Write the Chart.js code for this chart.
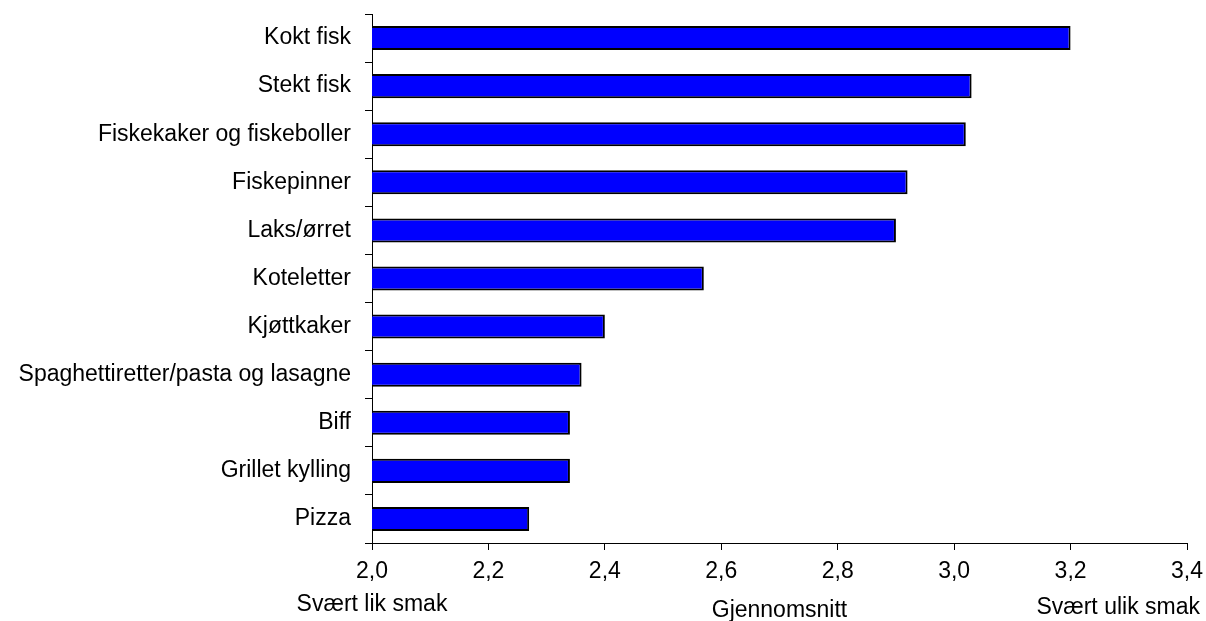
<!DOCTYPE html>
<html>
<head>
<meta charset="utf-8">
<script src="https://cdn.jsdelivr.net/npm/chart.js@4"></script>
<style>
  html, body { margin: 0; padding: 0; background: #fff; }
  #wrap { width: 1206px; height: 621px; }
</style>
</head>
<body>
<div id="wrap"><canvas id="c" width="1206" height="621"></canvas></div>
<script>
const categories = [
  "Kokt fisk", "Stekt fisk", "Fiskekaker og fiskeboller", "Fiskepinner",
  "Laks/ørret", "Koteletter", "Kjøttkaker", "Spaghettiretter/pasta og lasagne",
  "Biff", "Grillet kylling", "Pizza"
];
const averages = [3.20, 3.03, 3.02, 2.92, 2.90, 2.57, 2.40, 2.36, 2.34, 2.34, 2.27];
const axisMin = 2.0;
const axisMax = 3.4;
const axisStep = 0.2;
const leftLabel = "Svært lik smak";
const middleLabel = "Gjennomsnitt";
const rightLabel = "Svært ulik smak";

const FONT = "'Liberation Sans', Arial, sans-serif";

// tekst under x-aksen
const bottomLabels = {
  id: "bottomLabels",
  afterDraw(chart) {
    const ctx = chart.ctx;
    const x = chart.scales.x;
    const area = chart.chartArea;
    ctx.save();
    ctx.font = "23px " + FONT;
    ctx.fillStyle = "#000";
    ctx.textBaseline = "alphabetic";
    ctx.textAlign = "center";
    ctx.fillText(leftLabel, x.getPixelForValue(axisMin), 611);
    ctx.fillText(middleLabel, (area.left + area.right) / 2, 617);
    ctx.textAlign = "right";
    ctx.fillText(rightLabel, chart.width - 6, 614);
    ctx.restore();
  }
};

new Chart(document.getElementById("c"), {
  type: "bar",
  data: {
    labels: categories,
    datasets: [{
      data: averages,
      backgroundColor: "#0000ff",
      borderColor: "#000",
      borderWidth: 2,
      borderSkipped: false,
      barPercentage: 0.5,
      categoryPercentage: 1
    }]
  },
  options: {
    indexAxis: "y",
    responsive: false,
    animation: false,
    layout: { padding: { left: 0, top: 14, right: 19, bottom: 0 } },
    plugins: { legend: { display: false }, tooltip: { enabled: false } },
    scales: {
      x: {
        min: axisMin,
        max: axisMax,
        afterFit(s) { s.height = 78; s.paddingLeft = 0; s.paddingRight = 0; },
        border: { display: true, color: "#000", width: 1 },
        grid: { drawOnChartArea: false, drawTicks: true, tickLength: 7, color: "#000" },
        ticks: {
          stepSize: axisStep,
          color: "#000",
          font: { family: FONT, size: 23 },
          padding: 8,
          maxRotation: 0,
          callback: v => v.toFixed(1).replace(".", ",")
        }
      },
      y: {
        afterFit(s) { s.width = 372; s.paddingTop = 0; s.paddingBottom = 0; },
        border: { display: true, color: "#000", width: 1 },
        grid: { drawOnChartArea: false, drawTicks: true, tickLength: 7, color: "#000", offset: true },
        ticks: {
          color: "#000",
          font: { family: FONT, size: 23 },
          padding: 14
        }
      }
    }
  },
  plugins: [bottomLabels]
});
</script>
</body>
</html>
